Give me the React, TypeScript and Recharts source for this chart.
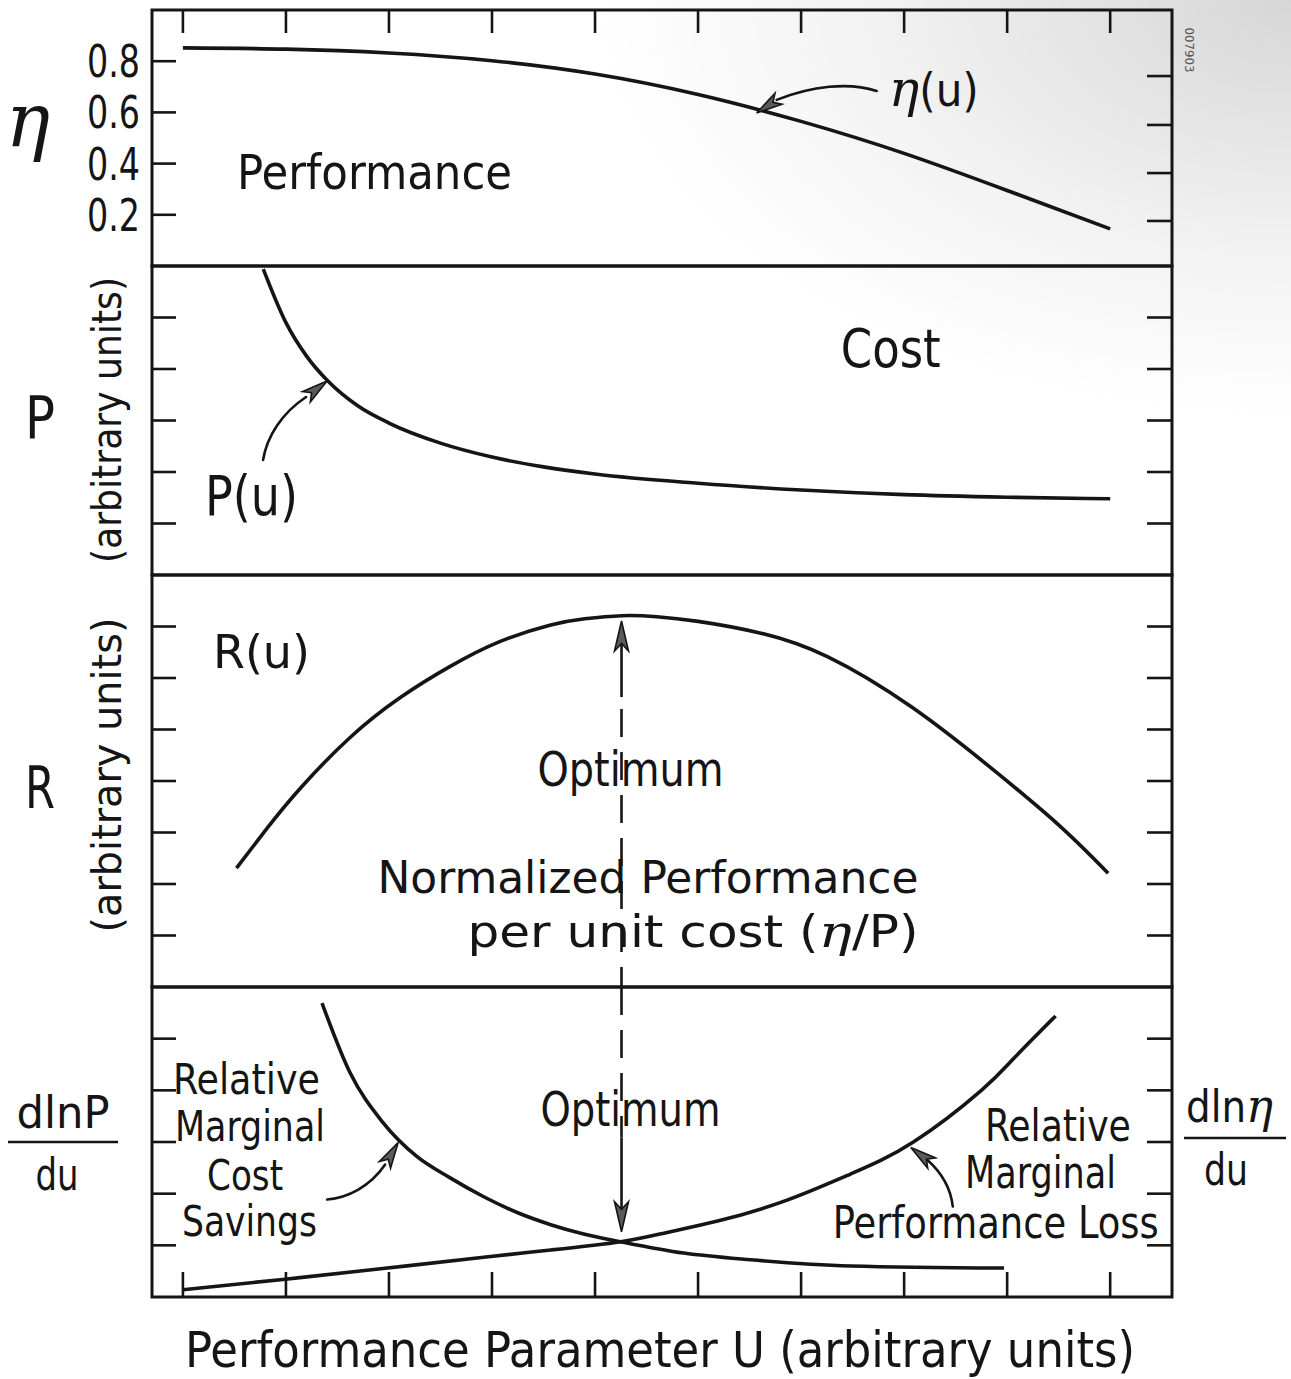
import React from 'react';
import { LineChart, Line, XAxis, YAxis, ReferenceArea, ReferenceDot, ReferenceLine } from 'recharts';

const FONT = "'DejaVu Sans Condensed', 'Liberation Sans Narrow', 'DejaVu Sans', sans-serif";
const SERIF = "'DejaVu Serif', 'Liberation Serif', serif";
const INK = '#151515';

// ---------- data ----------
// performance parameter U (arbitrary units)
const uTicks = [1, 2, 3, 4, 5, 6, 7, 8, 9, 10];
const U_MIN = 0.7;
const U_MAX = 10.6;

// panel 1: performance eta(u)
const etaU = [1, 2, 3, 4, 5, 6, 7, 8, 9, 10];
const etaV = [0.852, 0.847, 0.832, 0.802, 0.75, 0.67, 0.565, 0.44, 0.295, 0.145];
const etaTicks = [0.2, 0.4, 0.6, 0.8];
const etaTickLabels = ['0.2', '0.4', '0.6', '0.8'];
const etaRightTicks = [0.176, 0.363, 0.551, 0.742];

// panel 2: cost P(u)
const costU = [1.78, 2.0, 2.2, 2.4, 2.7, 3.0, 3.5, 4.0, 4.5, 5.0, 6.0, 7.0, 8.0, 9.0, 10.0];
const costV = [5.94, 4.9, 4.25, 3.78, 3.28, 2.95, 2.56, 2.29, 2.1, 1.96, 1.78, 1.65, 1.56, 1.51, 1.48];
const costTicks = [1, 2, 3, 4, 5];

// panel 3: normalized performance per unit cost R(u)
const ratioU = [1.52, 1.82, 2.14, 2.62, 3.11, 3.59, 4.08, 4.57, 4.9, 5.26, 5.6, 6.0, 6.61, 7.26, 8.07, 8.87, 9.52, 9.98];
const ratioV = [2.31, 3.09, 3.86, 4.84, 5.62, 6.22, 6.71, 7.03, 7.15, 7.21, 7.19, 7.1, 6.87, 6.41, 5.44, 4.21, 3.11, 2.21];
const ratioTicks = [1, 2, 3, 4, 5, 6, 7];

// panel 4: relative marginal cost savings / performance loss
const savingsU = [2.35, 2.62, 2.94, 3.27, 3.59, 3.92, 4.25, 4.57, 4.89, 5.25, 5.86, 6.51, 7.48, 8.97];
const savingsV = [5.69, 4.35, 3.38, 2.72, 2.31, 1.94, 1.63, 1.4, 1.22, 1.07, 0.85, 0.72, 0.6, 0.56];
const lossU = [1.0, 1.97, 2.94, 3.92, 4.57, 5.25, 5.7, 6.19, 6.83, 7.48, 8.09, 8.75, 9.07, 9.47];
const lossV = [0.14, 0.34, 0.55, 0.77, 0.91, 1.07, 1.25, 1.47, 1.85, 2.38, 3.0, 4.0, 4.63, 5.44];
const derivTicks = [1, 2, 3, 4, 5];

const optimumU = 5.257;

const zip = (us: number[], vs: number[]) => us.map((u, i) => ({ u, v: vs[i] }));
const etaData = zip(etaU, etaV);
const costData = zip(costU, costV);
const ratioData = zip(ratioU, ratioV);
const savingsData = zip(savingsU, savingsV);
const lossData = zip(lossU, lossV);

// ---------- helpers ----------
const tickLineStyle = { stroke: INK, strokeWidth: 2.6 };
const noTick = () => <g />;

type Note = {
  text: React.ReactNode;
  size: number;
  len?: number;
  anchor?: 'start' | 'middle' | 'end';
};

const noteShape = (n: Note) => (p: any) => (
  <text
    x={p.cx}
    y={p.cy}
    fontSize={n.size}
    fontFamily={FONT}
    textAnchor={n.anchor ?? 'start'}
    fill={INK}
    textLength={n.len}
    lengthAdjust="spacingAndGlyphs"
  >
    {n.text}
  </text>
);

const arrowHead = (base: [number, number], len: number, half: number) => {
  const [bx, by] = base;
  const d = Math.hypot(bx, by);
  const ux = -bx / d;
  const uy = -by / d;
  const nx = -uy;
  const ny = ux;
  const cx = -ux * len;
  const cy = -uy * len;
  const notch = len * 0.75;
  const pts = [
    [0, 0],
    [cx + nx * half, cy + ny * half],
    [-ux * notch, -uy * notch],
    [cx - nx * half, cy - ny * half],
  ];
  return (
    <polygon
      points={pts.map((q) => q.map((c) => c.toFixed(1)).join(',')).join(' ')}
      fill="#5a5a5a"
      stroke={INK}
      strokeWidth={1.6}
      strokeLinejoin="miter"
    />
  );
};

const arrowShape = (path: string, base: [number, number], len = 26, half = 6.5) => (p: any) => (
  <g transform={`translate(${p.cx},${p.cy})`}>
    {path ? <path d={path} fill="none" stroke={INK} strokeWidth={2.6} strokeLinecap="round" /> : null}
    {arrowHead(base, len, half)}
  </g>
);

const etaGlyph = (size: number) => (
  <tspan fontFamily={SERIF} fontStyle="italic" fontSize={size}>η</tspan>
);

const vbOf = (p: any, fallback: { x: number; y: number; width: number; height: number }) =>
  p && p.viewBox && typeof p.viewBox.x === 'number' ? p.viewBox : fallback;

const LeftTickEta = (p: any) => {
  const idx = etaTicks.indexOf(p.payload.value);
  return (
    <text x={p.x} y={p.y + 16} textAnchor="end" fontSize={45} fontFamily={FONT} fill={INK} textLength={53} lengthAdjust="spacingAndGlyphs">
      {etaTickLabels[idx]}
    </text>
  );
};

const CHART_W = 1291;
const LEFT_W = 152;
const RIGHT_W = 119;

// ---------- axis labels (outside the plot) ----------
const etaAxisLabel = (p: any) => {
  const vb = vbOf(p, { x: 0, y: 10, width: LEFT_W, height: 256 });
  return (
    <text x={vb.x + 28} y={vb.y + 136} textAnchor="middle" fontSize={74} fontFamily={SERIF} fontStyle="italic" fill={INK}>
      η
    </text>
  );
};

const serialLabel = (p: any) => {
  const vb = vbOf(p, { x: 1172, y: 10, width: RIGHT_W, height: 256 });
  const cx = vb.x + 17;
  const cy = vb.y + 40;
  return (
    <text x={cx} y={cy} transform={`rotate(90 ${cx} ${cy})`} textAnchor="middle" dominantBaseline="central" fontSize={13} fontFamily={FONT} fill="#555" textLength={45} lengthAdjust="spacingAndGlyphs">
      007903
    </text>
  );
};

const sideLabel = (letter: string, letterBaseline: number, unitsCenter: number, unitsLen: number) => (p: any) => {
  const vb = vbOf(p, { x: 0, y: 0, width: LEFT_W, height: 300 });
  const ux = vb.x + 121;
  const uy = vb.y + unitsCenter;
  return (
    <g>
      <text x={vb.x + 40} y={vb.y + letterBaseline} textAnchor="middle" fontSize={58} fontFamily={FONT} fill={INK} textLength={30} lengthAdjust="spacingAndGlyphs">
        {letter}
      </text>
      <text x={ux} y={uy} transform={`rotate(-90 ${ux} ${uy})`} textAnchor="middle" fontSize={40} fontFamily={FONT} fill={INK} textLength={unitsLen} lengthAdjust="spacingAndGlyphs">
        (arbitrary units)
      </text>
    </g>
  );
};

const dlnPLabel = (p: any) => {
  const vb = vbOf(p, { x: 0, y: 987, width: LEFT_W, height: 310 });
  return (
    <g>
      <text x={vb.x + 63} y={vb.y + 141} textAnchor="middle" fontSize={44} fontFamily={FONT} fill={INK} textLength={93} lengthAdjust="spacingAndGlyphs">
        dlnP
      </text>
      <line x1={vb.x + 8} x2={vb.x + 118} y1={vb.y + 155} y2={vb.y + 155} stroke={INK} strokeWidth={2.6} />
      <text x={vb.x + 57} y={vb.y + 203} textAnchor="middle" fontSize={44} fontFamily={FONT} fill={INK} textLength={43} lengthAdjust="spacingAndGlyphs">
        du
      </text>
    </g>
  );
};

const dlnEtaLabel = (p: any) => {
  const vb = vbOf(p, { x: 1172, y: 987, width: RIGHT_W, height: 310 });
  return (
    <g>
      <text x={vb.x + 14} y={vb.y + 135} textAnchor="start" fontSize={44} fontFamily={FONT} fill={INK} textLength={87} lengthAdjust="spacingAndGlyphs">
        dln{etaGlyph(46)}
      </text>
      <line x1={vb.x + 12} x2={vb.x + 114} y1={vb.y + 151} y2={vb.y + 151} stroke={INK} strokeWidth={2.6} />
      <text x={vb.x + 54} y={vb.y + 198} textAnchor="middle" fontSize={44} fontFamily={FONT} fill={INK} textLength={44} lengthAdjust="spacingAndGlyphs">
        du
      </text>
    </g>
  );
};

const xTitle = (p: any) => {
  const vb = vbOf(p, { x: LEFT_W, y: 1297, width: 1019, height: 82 });
  return (
    <text x={vb.x + 508} y={vb.y + 70} textAnchor="middle" fontSize={49} fontFamily={FONT} fill={INK} textLength={950} lengthAdjust="spacingAndGlyphs">
      Performance Parameter U (arbitrary units)
    </text>
  );
};

// ---------- panels ----------
const xAxisCommon = {
  type: 'number' as const,
  dataKey: 'u',
  domain: [U_MIN, U_MAX],
  ticks: uTicks,
  interval: 0 as const,
  allowDataOverflow: true,
};

const lineCommon = {
  yAxisId: 'l',
  dataKey: 'v',
  stroke: INK,
  strokeWidth: 3.6,
  dot: false,
  activeDot: false,
  isAnimationActive: false,
};

const frame = (yMax: number) => (
  <ReferenceArea yAxisId="l" x1={U_MIN} x2={U_MAX} y1={0} y2={yMax} fill="none" fillOpacity={0} stroke={INK} strokeWidth={3} ifOverflow="visible" />
);

const leftAxis = (yMax: number, ticks: number[], extra: any) => (
  <YAxis
    yAxisId="l"
    orientation="left"
    type="number"
    domain={[0, yMax]}
    ticks={ticks}
    interval={0}
    allowDataOverflow
    width={LEFT_W}
    tickSize={-24}
    tickMargin={36}
    axisLine={false}
    tickLine={tickLineStyle}
    tick={noTick}
    {...extra}
  />
);

const rightAxis = (yMax: number, ticks: number[], extra: any) => (
  <YAxis
    yAxisId="r"
    orientation="right"
    type="number"
    domain={[0, yMax]}
    ticks={ticks}
    interval={0}
    allowDataOverflow
    width={RIGHT_W}
    tickSize={-25}
    axisLine={false}
    tickLine={tickLineStyle}
    tick={noTick}
    {...extra}
  />
);

const Panel1 = () => (
  <LineChart width={CHART_W} height={270} margin={{ top: 0, right: 0, bottom: 4, left: 0 }}>
    <XAxis {...xAxisCommon} orientation="top" height={10} tickSize={-23} tick={noTick} tickLine={tickLineStyle} axisLine={false} />
    {leftAxis(1, etaTicks, { tick: LeftTickEta, label: { content: etaAxisLabel } })}
    {rightAxis(1, etaRightTicks, { label: { content: serialLabel } })}
    {frame(1)}
    <Line {...lineCommon} type="natural" data={etaData} name="η(u)" />
    <ReferenceDot yAxisId="l" x={1.525} y={0.301} ifOverflow="visible" shape={noteShape({ text: 'Performance', size: 48, len: 275 })} />
    <ReferenceDot
      yAxisId="l"
      x={7.851}
      y={0.625}
      ifOverflow="visible"
      shape={noteShape({ text: <>{etaGlyph(50)}(u)</>, size: 46, len: 90 })}
    />
    <ReferenceDot yAxisId="l" x={6.569} y={0.598} ifOverflow="visible" shape={arrowShape('M 120,-22 C 92,-31 55,-27 20,-13', [20, -13])} />
  </LineChart>
);

const Panel2 = () => (
  <LineChart width={CHART_W} height={317} margin={{ top: 4, right: 0, bottom: 4, left: 0 }}>
    <XAxis {...xAxisCommon} hide />
    {leftAxis(6, costTicks, { label: { content: sideLabel('P', 172, 154, 286) } })}
    {rightAxis(6, costTicks, {})}
    {frame(6)}
    <Line {...lineCommon} type="monotone" data={costData} name="P(u)" />
    <ReferenceDot yAxisId="l" x={7.385} y={4.039} ifOverflow="visible" shape={noteShape({ text: 'Cost', size: 54, len: 100 })} />
    <ReferenceDot yAxisId="l" x={1.214} y={1.165} ifOverflow="visible" shape={noteShape({ text: 'P(u)', size: 56, len: 93 })} />
    <ReferenceDot yAxisId="l" x={2.399} y={3.767} ifOverflow="visible" shape={arrowShape('M -64,79 C -60,55 -45,32 -21,16', [-21, 16])} />
  </LineChart>
);

const Panel3 = () => (
  <LineChart width={CHART_W} height={420} margin={{ top: 4, right: 0, bottom: 4, left: 0 }}>
    <XAxis {...xAxisCommon} hide />
    {leftAxis(8, ratioTicks, { label: { content: sideLabel('R', 233, 200, 315) } })}
    {rightAxis(8, ratioTicks, {})}
    {frame(8)}
    <Line {...lineCommon} type="natural" data={ratioData} name="R(u)" />
    <ReferenceLine yAxisId="l" segment={[{ x: optimumU, y: 7.0 }, { x: optimumU, y: 5.63 }]} stroke={INK} strokeWidth={2.6} ifOverflow="visible" />
    <ReferenceLine yAxisId="l" segment={[{ x: optimumU, y: 5.4 }, { x: optimumU, y: 0 }]} stroke={INK} strokeWidth={2.6} strokeDasharray="28 15" ifOverflow="visible" />
    <ReferenceDot yAxisId="l" x={optimumU} y={7.107} ifOverflow="visible" shape={arrowShape('', [0, 30], 30, 7)} />
    <ReferenceDot yAxisId="l" x={1.292} y={6.194} ifOverflow="visible" shape={noteShape({ text: 'R(u)', size: 46, len: 97 })} />
    <ReferenceDot yAxisId="l" x={5.344} y={3.903} ifOverflow="visible" shape={noteShape({ text: 'Optimum', size: 48, len: 186, anchor: 'middle' })} />
    <ReferenceDot yAxisId="l" x={5.514} y={1.825} ifOverflow="visible" shape={noteShape({ text: 'Normalized  Performance', size: 45, len: 541, anchor: 'middle' })} />
    <ReferenceDot
      yAxisId="l"
      x={5.951}
      y={0.777}
      ifOverflow="visible"
      shape={noteShape({ text: <>per  unit  cost ({etaGlyph(45)}/P)</>, size: 45, len: 451, anchor: 'middle' })}
    />
  </LineChart>
);

const Panel4 = () => (
  <LineChart width={CHART_W} height={396} margin={{ top: 4, right: 0, bottom: 0, left: 0 }}>
    <XAxis {...xAxisCommon} orientation="bottom" height={82} tickSize={-25} tick={noTick} tickLine={tickLineStyle} axisLine={false} label={{ content: xTitle }} />
    {leftAxis(6, derivTicks, { label: { content: dlnPLabel } })}
    {rightAxis(6, derivTicks, { label: { content: dlnEtaLabel } })}
    {frame(6)}
    <Line {...lineCommon} type="monotone" data={savingsData} name="Relative Marginal Cost Savings" />
    <Line {...lineCommon} type="natural" data={lossData} name="Relative Marginal Performance Loss" />
    <ReferenceLine yAxisId="l" segment={[{ x: optimumU, y: 6 }, { x: optimumU, y: 3.09 }]} stroke={INK} strokeWidth={2.6} strokeDasharray="28 15" ifOverflow="visible" />
    <ReferenceLine yAxisId="l" segment={[{ x: optimumU, y: 3.09 }, { x: optimumU, y: 1.5 }]} stroke={INK} strokeWidth={2.6} ifOverflow="visible" />
    <ReferenceDot yAxisId="l" x={optimumU} y={1.262} ifOverflow="visible" shape={arrowShape('', [0, -30], 30, 7)} />
    <ReferenceDot yAxisId="l" x={1.617} y={3.922} ifOverflow="visible" shape={noteShape({ text: 'Relative', size: 43, len: 147, anchor: 'middle' })} />
    <ReferenceDot yAxisId="l" x={1.651} y={3.01} ifOverflow="visible" shape={noteShape({ text: 'Marginal', size: 43, len: 150, anchor: 'middle' })} />
    <ReferenceDot yAxisId="l" x={1.603} y={2.078} ifOverflow="visible" shape={noteShape({ text: 'Cost', size: 43, len: 76, anchor: 'middle' })} />
    <ReferenceDot yAxisId="l" x={1.646} y={1.184} ifOverflow="visible" shape={noteShape({ text: 'Savings', size: 43, len: 135, anchor: 'middle' })} />
    <ReferenceDot yAxisId="l" x={5.344} y={3.301} ifOverflow="visible" shape={noteShape({ text: 'Optimum', size: 48, len: 180, anchor: 'middle' })} />
    <ReferenceDot yAxisId="l" x={8.784} y={3.01} ifOverflow="visible" shape={noteShape({ text: 'Relative', size: 44, len: 146 })} />
    <ReferenceDot yAxisId="l" x={8.59} y={2.117} ifOverflow="visible" shape={noteShape({ text: 'Marginal', size: 44, len: 151 })} />
    <ReferenceDot yAxisId="l" x={7.307} y={1.146} ifOverflow="visible" shape={noteShape({ text: 'Performance  Loss', size: 44, len: 326 })} />
    <ReferenceDot yAxisId="l" x={3.089} y={2.99} ifOverflow="visible" shape={arrowShape('M -71,57 C -50,55 -28,44 -13,22', [-13, 22])} />
    <ReferenceDot yAxisId="l" x={8.065} y={2.893} ifOverflow="visible" shape={arrowShape('M 42,59 C 40,42 32,26 16,12', [16, 12])} />
  </LineChart>
);

export default function App() {
  return (
    <div style={{ position: 'absolute', left: 0, top: 0, width: 1291, height: 1379, background: '#ffffff', overflow: 'hidden' }}>
      <div
        style={{
          position: 'absolute',
          left: 0,
          top: 0,
          width: 1291,
          height: 1379,
          background: 'radial-gradient(ellipse 700px 420px at 1291px 0px, rgba(0,0,0,0.16), rgba(0,0,0,0.05) 60%, rgba(0,0,0,0) 100%)',
        }}
      />
      <div style={{ position: 'absolute', left: 0, top: 0 }}>
        <Panel1 />
      </div>
      <div style={{ position: 'absolute', left: 0, top: 262 }}>
        <Panel2 />
      </div>
      <div style={{ position: 'absolute', left: 0, top: 571 }}>
        <Panel3 />
      </div>
      <div style={{ position: 'absolute', left: 0, top: 983 }}>
        <Panel4 />
      </div>
    </div>
  );
}
